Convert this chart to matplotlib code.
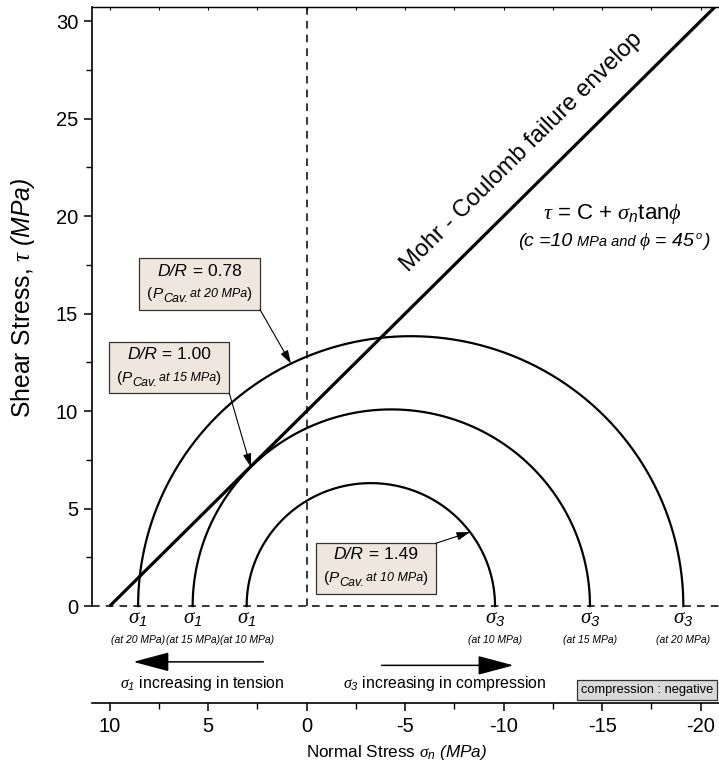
import numpy as np
import matplotlib
matplotlib.use("Agg")
import matplotlib.pyplot as plt
from matplotlib.patches import Rectangle
from matplotlib.ticker import MultipleLocator, FixedLocator

plt.rcParams['font.family'] = ['Liberation Sans', 'DejaVu Sans']
plt.rcParams['mathtext.fontset'] = 'custom'
plt.rcParams['mathtext.rm'] = 'Liberation Sans'
plt.rcParams['mathtext.it'] = 'Liberation Serif:italic'
plt.rcParams['mathtext.sf'] = 'Liberation Sans:italic'
plt.rcParams['mathtext.bf'] = 'Liberation Sans:bold'

# Mohr-Coulomb envelope: tau = c + sigma_n * tan(phi)  (compression negative)
cohesion = 10.0
phi_deg = 45.0

# Mohr circles for each cavity pressure (sigma_1 tension side, sigma_3 compression side)
p_cav = [10, 15, 20]
sigma1 = [3.05, 5.79, 8.56]
sigma3 = [-9.56, -14.38, -19.12]
dr_ratio = ['1.49', '1.00', '0.78']

fig = plt.figure(figsize=(7.19, 7.72), dpi=100)
ax = fig.add_axes([92 / 719, 69 / 772, 627 / 719, 696 / 772])
ax.set_xlim(10.9, -20.93)
ax.set_ylim(-4.97, 30.72)

# failure envelope
tanphi = np.tan(np.radians(phi_deg))
xs = np.linspace(cohesion / tanphi, -25, 50)
ax.plot(xs, cohesion - xs * tanphi, color='black', lw=2.3, solid_capstyle='butt', zorder=3)

# half circles
circles = {}
for p, s1, s3 in zip(p_cav, sigma1, sigma3):
    c = (s1 + s3) / 2
    r = (s1 - s3) / 2
    th = np.linspace(0, np.pi, 300)
    ax.plot(c + r * np.cos(th), r * np.sin(th), color='black', lw=1.6, zorder=3)
    circles[p] = (c, r)

# reference lines
ax.axhline(0, color='black', lw=1.1, ls=(0, (5, 4)), zorder=2)
ax.plot([0, 0], [0, 40], color='black', lw=1.1, ls=(0, (5, 4)), zorder=2)

# axes styling
ax.spines['right'].set_visible(False)
ax.spines['left'].set_bounds(0, 30.72)
ax.spines['left'].set_linewidth(1.2)
ax.spines['bottom'].set_linewidth(1.2)
ax.spines['top'].set_linewidth(0.9)
ax.set_xticks([10, 5, 0, -5, -10, -15, -20])
ax.set_xticklabels(['10', '5', '0', '-5', '-10', '-15', '-20'])
ax.xaxis.set_minor_locator(MultipleLocator(2.5))
ax.set_yticks([0, 5, 10, 15, 20, 25, 30])
ax.yaxis.set_minor_locator(FixedLocator([2.5, 7.5, 12.5, 17.5, 22.5, 27.5]))
ax.tick_params(axis='both', which='major', direction='out', length=6, width=1.1,
               labelsize=14.5, pad=4)
ax.tick_params(axis='both', which='minor', direction='out', length=4, width=1.0)

# short inward ticks along the top edge
top = ax.secondary_xaxis('top')
top.xaxis.set_major_locator(MultipleLocator(2.5))
top.tick_params(direction='in', length=2.5, width=0.8, labeltop=False)
top.spines['top'].set_linewidth(0.9)

fig.canvas.draw()
renderer = fig.canvas.get_renderer()


def runs(x, y, parts, ha='center'):
    """Lay out text runs of different size/style side by side at a data point."""
    objs = []
    for txt, size, style, dy, gap in parts:
        t = ax.annotate(txt, (x, y), xytext=(0, 0), textcoords='offset pixels',
                        fontsize=size, fontstyle=style, va='baseline', ha='left',
                        annotation_clip=False, zorder=6)
        objs.append((t, dy, gap))
    widths = [t.get_window_extent(renderer).width + gap for t, dy, gap in objs]
    start = -sum(widths) / 2 if ha == 'center' else 0
    for (t, dy, gap), w in zip(objs, widths):
        t.set_position((start, dy))
        start += w


def dr_box(x0, x1, y0, y1, ratio, p, xl, yl1, yl2):
    ax.add_patch(Rectangle((x1, y1), x0 - x1, y0 - y1, facecolor='#efe6dd',
                           edgecolor='#333333', lw=0.9, zorder=5))
    runs(xl, yl1, [('D/R', 12.5, 'italic', 0, 0), (' = ' + ratio, 12.5, 'normal', 0, 0)])
    runs(xl, yl2, [('(', 11, 'normal', 0, 0), ('P', 11, 'italic', 0, 0),
                   ('Cav.', 9, 'italic', -4, 2), ('at ' + str(p) + ' MPa', 9, 'italic', 1, 0),
                   (')', 11, 'normal', 0, 0)])


def point_on(p, x):
    c, r = circles[p]
    return x, np.sqrt(r ** 2 - (x - c) ** 2)


arrow_small = dict(arrowstyle='-|>,head_length=0.8,head_width=0.25', color='black',
                   lw=0.8, shrinkA=0, shrinkB=0, mutation_scale=10)

dr_box(8.49, 2.37, 17.87, 15.2, dr_ratio[2], 20, 5.43, 16.95, 15.8)
ax.annotate('', xy=point_on(20, 0.8), xytext=(2.37, 15.2), arrowprops=arrow_small, zorder=6)

dr_box(10.04, 3.93, 13.55, 10.91, dr_ratio[1], 15, 6.99, 12.65, 11.5)
c15, r15 = circles[15]
tang = (c15 + r15 * np.cos(np.radians(phi_deg)), r15 * np.sin(np.radians(phi_deg)))
ax.annotate('', xy=tang, xytext=(3.93, 10.91), arrowprops=arrow_small, zorder=6)

dr_box(-0.46, -6.56, 3.22, 0.62, dr_ratio[0], 10, -3.51, 2.4, 1.25)
ax.annotate('', xy=point_on(10, -8.29), xytext=(-6.56, 3.22), arrowprops=arrow_small, zorder=6)

# sigma labels under the circles
for p, s1, s3 in zip(p_cav, sigma1, sigma3):
    for s, sub in [(s1, '1'), (s3, '3')]:
        ax.text(s, -0.62, r'$\sigma_{\mathsf{%s}}$' % sub, fontsize=15, ha='center', va='center')
        ax.text(s, -1.72, '(at %d MPa)' % p, fontsize=7.5, style='italic',
                ha='center', va='center')

# direction arrows
arrow_big = dict(arrowstyle='-|>,head_length=1.5,head_width=0.4', color='black',
                 lw=1.1, shrinkA=0, shrinkB=0, mutation_scale=15)
ax.annotate('', xy=(8.8, -2.86), xytext=(2.2, -2.86), arrowprops=arrow_big)
ax.annotate('', xy=(-10.5, -3.04), xytext=(-3.8, -3.04), arrowprops=arrow_big)
ax.text(5.3, -3.97, r'$\sigma_{\mathsf{1}}$ increasing in tension', fontsize=11.4,
        ha='center', va='center')
ax.text(-7.0, -3.97, r'$\sigma_{\mathsf{3}}$ increasing in compression', fontsize=11.4,
        ha='center', va='center')
ax.text(-13.92, -4.31, 'compression : negative', fontsize=9.3, ha='left', va='center',
        bbox=dict(boxstyle='square,pad=0.3', facecolor='#d9d9d9', edgecolor='#333333',
                  lw=0.9), zorder=6)

# envelope label and equation
ax.text(-10.9, 23.3, 'Mohr - Coulomb failure envelop', fontsize=17, rotation=44.7,
        rotation_mode='anchor', ha='center', va='center')
ax.text(-15.5, 20.1, r'$\tau$ = C + $\sigma_{\mathsf{n}}$tan$\phi$', fontsize=16,
        ha='center', va='center')
runs(-15.6, 18.45, [('(', 14, 'italic', 0, 0), ('c =10', 14, 'italic', 0, 4),
                    ('MPa and ', 10.5, 'italic', 0, 0), (r'$\phi$ = 45 ', 14, 'italic', 0, 0),
                    ('o', 8, 'italic', 7, 2), (')', 14, 'italic', 0, 0)])

ax.set_xlabel(r'Normal Stress $\sigma_{\mathsf{n}}$ $\mathsf{(MPa)}$', fontsize=12.3)
ax.xaxis.set_label_coords(0.485, -0.058)
ax.set_ylabel(r'Shear Stress, $\tau$ $\mathsf{(MPa)}$', fontsize=17.8)
ax.yaxis.set_label_coords(-0.088, 0.582)

fig.savefig('out.png', dpi=100)
